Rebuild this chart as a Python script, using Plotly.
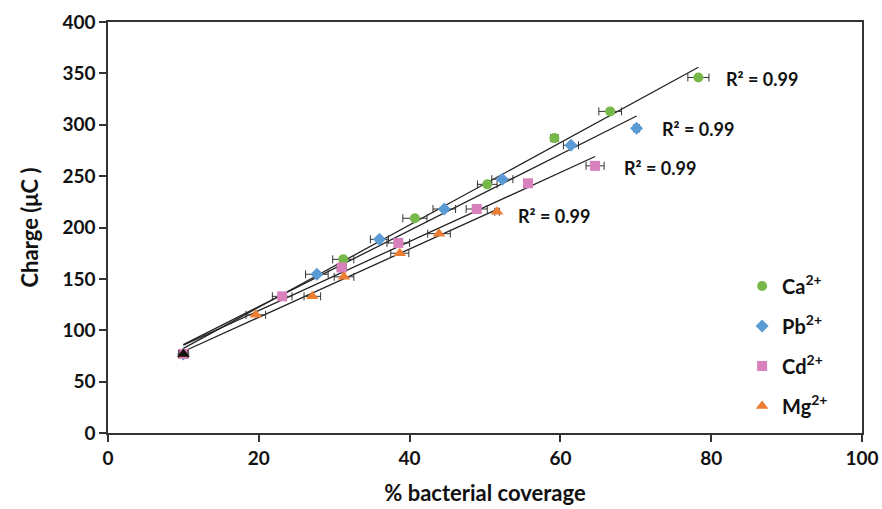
import numpy as np
import plotly.graph_objects as go

# ---- data ----
ca_x = [10.0, 31.2, 40.7, 50.3, 59.2, 66.6, 78.3]
ca_y = [77, 169, 209, 242, 287, 313, 346]
ca_err = [0.6, 1.4, 1.6, 1.3, 0.5, 1.5, 1.4]

pb_x = [10.0, 27.7, 36.0, 44.6, 52.3, 61.4, 70.1]
pb_y = [77, 154.5, 188.5, 218, 247, 280, 296.5]
pb_err = [0.6, 1.5, 1.2, 1.5, 1.4, 1.0, 0.4]

cd_x = [10.0, 23.1, 31.0, 38.5, 48.9, 55.7, 64.6]
cd_y = [77, 133, 161, 185, 218, 243, 260]
cd_err = [0.6, 1.3, 0.6, 1.5, 1.4, 0.4, 1.2]

mg_x = [10.0, 19.6, 27.1, 31.3, 38.7, 43.9, 51.6]
mg_y = [77, 115, 133, 152, 175, 194, 215.4]
mg_err = [0.6, 1.3, 1.1, 1.3, 1.2, 1.5, 0.3]

series = [
    ("Ca<sup>2+</sup>", ca_x, ca_y, ca_err, "#77B84A", "circle", 10),
    ("Pb<sup>2+</sup>", pb_x, pb_y, pb_err, "#5B9BD5", "diamond", 10),
    ("Cd<sup>2+</sup>", cd_x, cd_y, cd_err, "#D981BC", "square", 10),
    ("Mg<sup>2+</sup>", mg_x, mg_y, mg_err, "#ED7D31", "triangle-up", 11),
]

r2_labels = ["R² = 0.99", "R² = 0.99", "R² = 0.99", "R² = 0.99"]
r2_pos = [(86.8, 345), (78.2, 296), (73.2, 258), (59.2, 211)]

FONT = "Lato"

fig = go.Figure()

# trend lines (least-squares fit of each series)
for name, xs, ys, errs, col, sym, sz in series:
    k, b = np.polyfit(xs, ys, 1)
    lx = [min(xs), max(xs)]
    fig.add_trace(go.Scatter(
        x=lx, y=[k * v + b for v in lx], mode="lines",
        line=dict(color="#222222", width=1.3), showlegend=False, hoverinfo="skip"))

for i, (name, xs, ys, errs, col, sym, sz) in enumerate(series):
    fig.add_trace(go.Scatter(
        x=xs, y=ys, mode="markers", name="<b>%s</b>" % name,
        marker=dict(color=col, symbol=sym, size=sz, line=dict(width=0)),
        error_x=dict(type="data", array=errs, color="#333333", thickness=1, width=4),
        legendgroup=str(i),
    ))

# the shared starting point is drawn as a dark triangle on top in the reference
fig.add_trace(go.Scatter(
    x=[mg_x[0]], y=[mg_y[0]], mode="markers", showlegend=False, hoverinfo="skip",
    marker=dict(color="#111111", symbol="triangle-up", size=11)))

for txt, (ax, ay) in zip(r2_labels, r2_pos):
    fig.add_annotation(x=ax, y=ay, text="<b>%s</b>" % txt, showarrow=False,
                       xanchor="center", yanchor="middle",
                       font=dict(family=FONT, size=18, color="#111111"))

axis_common = dict(
    showline=True, linecolor="#333333", linewidth=1.5, mirror=True,
    showgrid=False, zeroline=False, ticks="outside", ticklen=7,
    tickcolor="#333333", tickwidth=1.5,
    tickfont=dict(family=FONT, size=19, color="#111111"),
    tickprefix="<b>", ticksuffix="</b>",
)

fig.update_layout(
    width=882, height=509,
    margin=dict(l=108, r=20, t=22, b=76, autoexpand=False),
    paper_bgcolor="white", plot_bgcolor="white",
    font=dict(family=FONT, color="#111111"),
    xaxis=dict(range=[0, 100], dtick=20, tickformat="d",
               title=dict(text="<b>% bacterial coverage</b>",
                          font=dict(family=FONT, size=22), standoff=18),
               **axis_common),
    yaxis=dict(range=[0, 400], dtick=50,
               title=dict(text="<b>Charge (μC )</b>",
                          font=dict(family=FONT, size=22), standoff=18),
               **axis_common),
    legend=dict(x=0.841, y=0.405, xanchor="left", yanchor="top",
                bgcolor="rgba(0,0,0,0)", tracegroupgap=11,
                font=dict(family=FONT, size=20, color="#111111")),
    showlegend=True,
)

fig.write_html("out.html")
